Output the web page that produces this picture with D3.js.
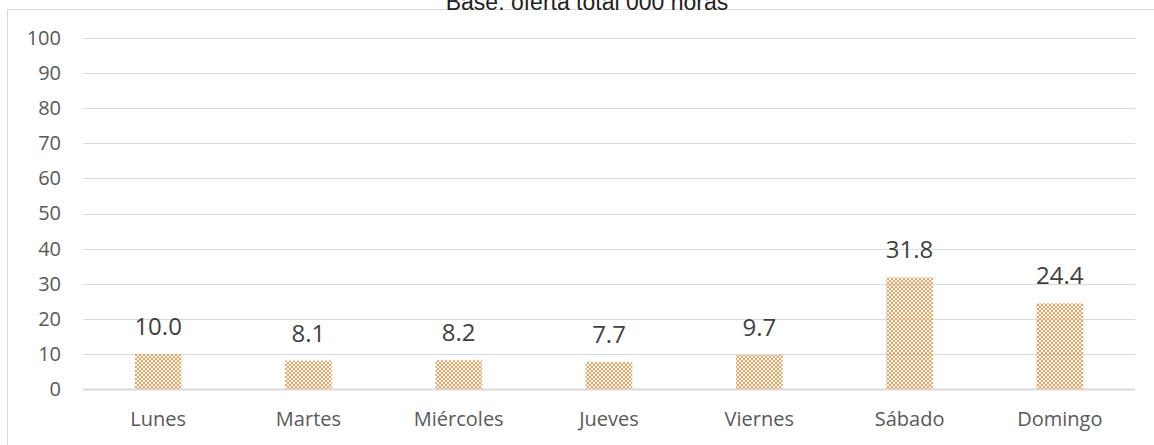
<!DOCTYPE html>
<html>
<head>
<meta charset="utf-8">
<script src="https://cdn.jsdelivr.net/npm/d3@7"></script>
<style>
  body { margin: 0; background: #fff; }
  svg { display: block; }
</style>
</head>
<body>
<div id="chart"></div>
<script>
  var days = ["Lunes", "Martes", "Miércoles", "Jueves", "Viernes", "Sábado", "Domingo"];
  var shares = [10.0, 8.1, 8.2, 7.7, 9.7, 31.8, 24.4];
  var yTicks = [0, 10, 20, 30, 40, 50, 60, 70, 80, 90, 100];
  var title = "Base: oferta total 000 horas";

  var svgWidth = 1154;
  var svgHeight = 445;

  var margin = { top: 38, right: 19, bottom: 56, left: 83 };
  var width = svgWidth - margin.left - margin.right;
  var height = svgHeight - margin.top - margin.bottom;

  var svg = d3.select("#chart")
    .append("svg")
    .attr("width", svgWidth)
    .attr("height", svgHeight);

  // checker fill like the Excel pattern
  var pat = svg.append("defs").append("pattern")
    .attr("id", "checker")
    .attr("patternUnits", "userSpaceOnUse")
    .attr("width", 4)
    .attr("height", 4);
  pat.append("rect").attr("x", 0).attr("y", 0).attr("width", 2).attr("height", 2).attr("fill", "#f4a05a");
  pat.append("rect").attr("x", 2).attr("y", 2).attr("width", 2).attr("height", 2).attr("fill", "#f4a05a");

  // outer chart border
  svg.append("rect")
    .attr("x", 7.5)
    .attr("y", 9.5)
    .attr("width", svgWidth)
    .attr("height", svgHeight)
    .attr("fill", "none")
    .attr("stroke", "#d9d9d9");

  // title, clipped at top
  svg.append("text")
    .attr("x", 587)
    .attr("y", 10)
    .attr("text-anchor", "middle")
    .style("font-family", "Liberation Sans, Arial, sans-serif")
    .style("font-size", "23px")
    .attr("fill", "#222")
    .text(title);

  var chartGroup = svg.append("g")
    .attr("transform", `translate(${margin.left}, ${margin.top})`);

  var xScale = d3.scaleBand()
    .domain(days)
    .range([0, width])
    .paddingInner(0.69)
    .paddingOuter(0.345);

  var yScale = d3.scaleLinear()
    .domain([0, 100])
    .range([height, 0]);

  // gridlines
  chartGroup.append("g")
    .selectAll("line")
    .data(yTicks)
    .enter()
    .append("line")
    .attr("x1", 0)
    .attr("x2", width)
    .attr("y1", d => Math.round(yScale(d)) + 0.5)
    .attr("y2", d => Math.round(yScale(d)) + 0.5)
    .attr("stroke", "#d9d9d9")
    .attr("stroke-width", d => d === 0 ? 2 : 1);

  var leftAxis = d3.axisLeft(yScale).tickValues(yTicks).tickSize(0).tickPadding(22);
  var yAxisG = chartGroup.append("g").call(leftAxis);
  yAxisG.select(".domain").remove();
  yAxisG.selectAll("text")
    .style("font-family", "'Open Sans', sans-serif")
    .style("font-size", "20px")
    .attr("fill", "#595959");

  var bottomAxis = d3.axisBottom(xScale).tickSize(0).tickPadding(23);
  var xAxisG = chartGroup.append("g")
    .attr("transform", `translate(0, ${height})`)
    .call(bottomAxis);
  xAxisG.select(".domain").remove();
  xAxisG.selectAll("text")
    .style("font-family", "'Open Sans', sans-serif")
    .style("font-size", "20px")
    .attr("fill", "#595959");

  // bars
  chartGroup.selectAll(".bar")
    .data(shares)
    .enter()
    .append("rect")
    .attr("class", "bar")
    .attr("x", (d, i) => xScale(days[i]))
    .attr("y", d => yScale(d))
    .attr("width", xScale.bandwidth())
    .attr("height", d => height - yScale(d))
    .attr("fill", "url(#checker)");

  // value labels
  chartGroup.selectAll(".val")
    .data(shares)
    .enter()
    .append("text")
    .attr("class", "val")
    .attr("x", (d, i) => xScale(days[i]) + xScale.bandwidth() / 2)
    .attr("y", d => yScale(d) - 19)
    .attr("text-anchor", "middle")
    .style("font-family", "'Open Sans', sans-serif")
    .style("font-size", "24px")
    .attr("fill", "#404040")
    .text(d => d.toFixed(1));
</script>
</body>
</html>
